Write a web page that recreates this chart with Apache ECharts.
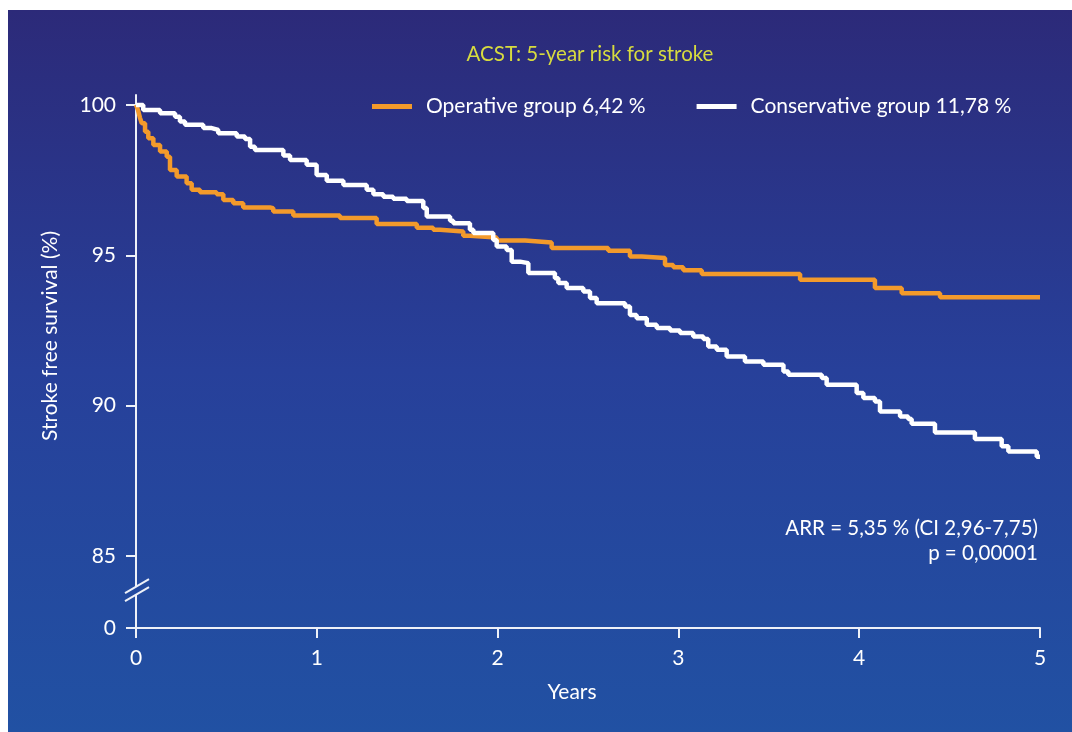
<!DOCTYPE html>
<html><head><meta charset="utf-8">
<script src="https://cdn.jsdelivr.net/npm/echarts@6/dist/echarts.min.js"></script>
<style>html,body{margin:0;padding:0;background:#fff}#c{width:1072px;height:732px}</style>
</head><body><div id="c"></div>
<script>
const titleText = 'ACST: 5-year risk for stroke';
const seriesNames = ['Operative group 6,42 %', 'Conservative group 11,78 %'];
const xAxisTitle = 'Years';
const yAxisTitle = 'Stroke free survival (%)';
const annotationLines = ['ARR = 5,35 % (CI 2,96-7,75)', 'p = 0,00001'];

// Operative group (step points: year, survival %)
const opYears = [0, 0.011, 0.022, 0.032, 0.050, 0.068, 0.096, 0.133, 0.170, 0.188, 0.225, 0.280, 0.308, 0.354, 0.446, 0.483, 0.538, 0.593, 0.741, 0.759, 0.870, 1.128, 1.331, 1.553, 1.644, 1.681, 1.810, 1.847, 1.995, 2.152, 2.299, 2.612, 2.732, 2.797, 2.926, 2.972, 3.027, 3.129, 3.673, 4.087, 4.235, 4.447, 5.0];
const opSurvival = [100, 99.83, 99.57, 99.39, 99.11, 98.89, 98.67, 98.45, 98.28, 97.84, 97.62, 97.40, 97.18, 97.10, 97.03, 96.84, 96.73, 96.59, 96.57, 96.46, 96.32, 96.24, 96.04, 95.92, 95.85, 95.79, 95.65, 95.59, 95.49, 95.43, 95.24, 95.15, 94.96, 94.91, 94.68, 94.60, 94.50, 94.38, 94.19, 93.91, 93.74, 93.61, 93.61];

// Conservative group
const conYears = [0, 0.040, 0.133, 0.216, 0.243, 0.271, 0.372, 0.419, 0.455, 0.557, 0.603, 0.631, 0.658, 0.815, 0.852, 0.944, 0.999, 1.055, 1.147, 1.276, 1.313, 1.368, 1.423, 1.497, 1.589, 1.608, 1.737, 1.755, 1.847, 1.866, 1.976, 1.995, 2.050, 2.078, 2.124, 2.170, 2.317, 2.336, 2.382, 2.474, 2.511, 2.548, 2.705, 2.732, 2.769, 2.825, 2.880, 2.954, 3.009, 3.082, 3.138, 3.165, 3.212, 3.267, 3.368, 3.470, 3.581, 3.608, 3.793, 3.820, 3.986, 4.023, 4.087, 4.115, 4.226, 4.271, 4.290, 4.419, 4.640, 4.788, 4.825, 4.982, 5.0];
const conSurvival = [100, 99.83, 99.72, 99.61, 99.45, 99.34, 99.23, 99.17, 99.06, 98.95, 98.87, 98.61, 98.50, 98.32, 98.17, 98.01, 97.67, 97.48, 97.34, 97.18, 97.03, 96.95, 96.88, 96.81, 96.57, 96.29, 96.15, 96.07, 95.85, 95.74, 95.51, 95.29, 95.18, 94.79, 94.74, 94.41, 94.24, 94.08, 93.91, 93.80, 93.58, 93.41, 93.30, 93.02, 92.91, 92.69, 92.58, 92.50, 92.42, 92.30, 92.22, 91.97, 91.86, 91.64, 91.47, 91.36, 91.14, 91.03, 90.92, 90.70, 90.42, 90.26, 90.14, 89.81, 89.64, 89.56, 89.40, 89.11, 88.89, 88.65, 88.48, 88.30, 88.30];

// Broken y axis: the bottom of the axis stands for 0
const yAxisBottom = 82.61;
const yAxisTop = 100.33;
const yBreakValue = 83.87;
const yTickValues = [82.61, 85, 90, 95, 100];
const yTickLabels = ['0', '85', '90', '95', '100'];
const xTickValues = [0, 1, 2, 3, 4, 5];

const FONT = 'Lato';
const AXIS_COLOR = '#eef1f8';
const colors = ['#f39a2b', '#ffffff'];

const chart = echarts.init(document.getElementById('c'), null, {renderer: 'canvas'});

const pairs = (xs, ys) => xs.map((x, i) => [x, ys[i]]);

const option = {
  animation: false,
  backgroundColor: '#ffffff',
  color: colors,
  title: {
    text: titleText,
    left: 585, top: 39, textAlign: 'center',
    textStyle: {color: '#d7db3f', fontFamily: FONT, fontSize: 20.5, fontWeight: 'normal'}
  },
  legend: {
    left: 367, top: 91,
    itemWidth: 40, itemHeight: 5, itemGap: 51,
    icon: 'rect',
    data: seriesNames,
    textStyle: {color: '#ffffff', fontFamily: FONT, fontSize: 21, padding: [0, 0, 0, 9]}
  },
  grid: {left: 136, right: 32, top: 95, bottom: 104, containLabel: false},
  xAxis: {
    type: 'value', min: 0, max: 5, interval: 1,
    splitLine: {show: false},
    axisLine: {lineStyle: {color: AXIS_COLOR, width: 2}},
    axisTick: {show: true, length: 10, lineStyle: {color: AXIS_COLOR, width: 2}},
    axisLabel: {color: '#ffffff', fontFamily: FONT, fontSize: 21, margin: 20}
  },
  yAxis: {
    type: 'value', min: yAxisBottom, max: yAxisTop,
    splitLine: {show: false},
    axisLine: {show: true, lineStyle: {color: AXIS_COLOR, width: 2}},
    axisTick: {show: true, length: 10, customValues: yTickValues, lineStyle: {color: AXIS_COLOR, width: 2}},
    axisLabel: {
      color: '#ffffff', fontFamily: FONT, fontSize: 21, margin: 20,
      customValues: yTickValues,
      formatter: (v) => {
        const i = yTickValues.findIndex(t => Math.abs(t - v) < 0.01);
        return i >= 0 ? yTickLabels[i] : '';
      }
    }
  },
  series: [
    {name: seriesNames[0], type: 'line', step: 'end', showSymbol: false, symbol: 'none',
     data: pairs(opYears, opSurvival), lineStyle: {width: 4.5, color: colors[0]}, z: 3},
    {name: seriesNames[1], type: 'line', step: 'end', showSymbol: false, symbol: 'none',
     data: pairs(conYears, conSurvival), lineStyle: {width: 4.5, color: colors[1]}, z: 4}
  ]
};
chart.setOption(option);

// Decorations placed relative to the axes
const x0 = chart.convertToPixel({xAxisIndex: 0}, 0);
const xEnd = chart.convertToPixel({xAxisIndex: 0}, 5);
const yBrk = chart.convertToPixel({yAxisIndex: 0}, yBreakValue);
const yBottom = chart.convertToPixel({yAxisIndex: 0}, yAxisBottom);

chart.setOption({
  graphic: [
    {type: 'rect', z: -10, silent: true,
     shape: {x: 8, y: 10, width: 1072 - 8, height: 732 - 10},
     style: {fill: new echarts.graphic.LinearGradient(0, 0, 0, 1, [
       {offset: 0, color: '#2c2a79'}, {offset: 0.5, color: '#27409a'}, {offset: 1, color: '#2151a3'}])}},
    // axis break: gap + two slashes
    {type: 'rect', z: 50, silent: true, shape: {x: x0 - 3, y: yBrk - 4, width: 6, height: 8}, style: {fill: '#2249a0'}},
    {type: 'line', z: 51, silent: true, shape: {x1: x0 - 11, y1: yBrk + 3, x2: x0 + 13, y2: yBrk - 11}, style: {stroke: AXIS_COLOR, lineWidth: 2}},
    {type: 'line', z: 51, silent: true, shape: {x1: x0 - 11, y1: yBrk + 11, x2: x0 + 13, y2: yBrk - 3}, style: {stroke: AXIS_COLOR, lineWidth: 2}},
    // axis titles
    {type: 'text', z: 20, x: (x0 + xEnd) / 2 - 16, y: yBottom + 64,
     style: {text: xAxisTitle, fill: '#ffffff', font: '21px ' + FONT, textAlign: 'center', textVerticalAlign: 'middle'}},
    {type: 'text', z: 20, x: 50, y: 336, rotation: Math.PI / 2,
     style: {text: yAxisTitle, fill: '#ffffff', font: '21px ' + FONT, textAlign: 'center', textVerticalAlign: 'middle'}},
    // annotation
    {type: 'text', z: 20, x: xEnd - 2, y: 528,
     style: {text: annotationLines[0], fill: '#ffffff', font: '20.5px ' + FONT, textAlign: 'right', textVerticalAlign: 'middle'}},
    {type: 'text', z: 20, x: xEnd - 2, y: 553,
     style: {text: annotationLines[1], fill: '#ffffff', font: '20.5px ' + FONT, textAlign: 'right', textVerticalAlign: 'middle'}}
  ]
});
</script></body></html>
